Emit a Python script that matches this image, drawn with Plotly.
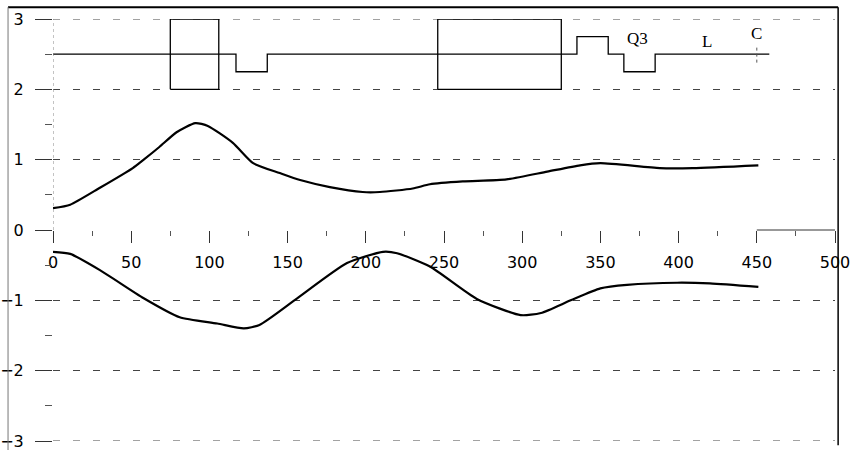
import plotly.graph_objects as go

# Upper optics curve (positive branch)
upper_x = [0, 11, 30, 51, 58, 68, 79, 91, 99, 115, 128, 145, 158, 177, 198, 209, 230, 241, 262, 290, 316, 337, 350, 388, 409, 451]
upper_y = [0.31, 0.36, 0.60, 0.88, 1.00, 1.18, 1.39, 1.52, 1.48, 1.24, 0.95, 0.81, 0.71, 0.61, 0.54, 0.54, 0.59, 0.65, 0.69, 0.72, 0.83, 0.92, 0.95, 0.88, 0.88, 0.92]

# Lower optics curve (negative branch)
lower_x = [0, 11, 30, 58, 81, 105, 122, 132, 155, 188, 211, 220, 241, 271, 299, 312, 331, 350, 367, 399, 420, 451]
lower_y = [-0.31, -0.34, -0.57, -0.97, -1.24, -1.33, -1.40, -1.35, -0.99, -0.47, -0.31, -0.33, -0.52, -0.98, -1.21, -1.18, -1.00, -0.83, -0.78, -0.75, -0.76, -0.81]

# Lattice layout: baseline level, boxed elements and step elements
line_level = 2.5
line_end = 458
box_start = [75, 246]
box_end = [106, 325]
box_low, box_high = 2.0, 3.0
step_start = [117, 335, 365]
step_end = [137, 355, 385]
step_level = [2.25, 2.75, 2.25]

labels = ["Q3", "L", "C"]
label_x = [374, 418, 450]
label_y = [2.72, 2.68, 2.8]
marker_x = 450

x_ticks = list(range(0, 501, 50))
y_ticks = list(range(-3, 4))
y_min, y_max = -3, 3

# Build the baseline polyline with its steps
lat_x, lat_y = [0], [line_level]
for s, e, lv in zip(step_start, step_end, step_level):
    lat_x += [s, s, e, e]
    lat_y += [line_level, lv, lv, line_level]
lat_x.append(line_end)
lat_y.append(line_level)

fig = go.Figure()

fig.add_trace(go.Scatter(x=lat_x, y=lat_y, mode="lines",
                         line=dict(color="black", width=1.3), hoverinfo="skip"))
for s, e in zip(box_start, box_end):
    fig.add_trace(go.Scatter(x=[s, e, e, s, s], y=[box_low, box_low, box_high, box_high, box_low],
                             mode="lines", line=dict(color="black", width=1.3), hoverinfo="skip"))

fig.add_trace(go.Scatter(x=upper_x, y=upper_y, mode="lines",
                         line=dict(color="black", width=2.2, shape="spline", smoothing=0.6)))
fig.add_trace(go.Scatter(x=lower_x, y=lower_y, mode="lines",
                         line=dict(color="black", width=2.2, shape="spline", smoothing=0.6)))

for t, lx, ly in zip(labels, label_x, label_y):
    fig.add_annotation(x=lx, y=ly, text=t, showarrow=False,
                       font=dict(family="Liberation Serif", size=17, color="black"))

grid_dash = "7px,13px"
shapes = [
    # dashed grid lines along the top and bottom edges
    dict(type="line", xref="paper", yref="y", x0=0, x1=1, y0=y_max, y1=y_max,
         line=dict(color="#444", width=1, dash=grid_dash), layer="below"),
    dict(type="line", xref="paper", yref="y", x0=0, x1=1, y0=y_min, y1=y_min,
         line=dict(color="#444", width=1, dash=grid_dash), layer="below"),
    # marker tick on the lattice line
    dict(type="line", xref="x", yref="y", x0=marker_x, x1=marker_x, y0=line_level - 0.12,
         y1=line_level + 0.12, line=dict(color="#555", width=1, dash="dot")),
    # faint vertical axis above zero
    dict(type="line", xref="x", yref="y", x0=0, x1=0, y0=0, y1=3,
         line=dict(color="#888", width=1, dash="dot")),
    # segment of the horizontal axis at the far end
    dict(type="line", xref="x", yref="y", x0=450, x1=500, y0=0, y1=0,
         line=dict(color="#333", width=1)),
    # outer frame
    dict(type="line", xref="paper", yref="paper", x0=-0.0575, x1=1.004, y0=1.028, y1=1.028,
         line=dict(color="black", width=2)),
    dict(type="line", xref="paper", yref="paper", x0=-0.0575, x1=-0.0575, y0=-0.05, y1=1.028,
         line=dict(color="#777", width=1)),
    dict(type="line", xref="paper", yref="paper", x0=1.004, x1=1.004, y0=-0.01, y1=1.028,
         line=dict(color="black", width=1.5)),
]

fig.update_layout(
    width=854, height=450,
    margin=dict(l=53, r=19, t=19, b=9),
    paper_bgcolor="white", plot_bgcolor="white",
    showlegend=False,
    shapes=shapes,
    font=dict(family="DejaVu Sans", size=16, color="black"),
)

fig.update_xaxes(
    range=[0, 500], tickvals=x_ticks, anchor="free", position=0.5,
    automargin=False, ticklabeloverflow="allow",
    ticks="outside", ticklen=12, tickwidth=1, tickcolor="#333",
    showgrid=False, showline=False, zeroline=False,
    minor=dict(dtick=25, ticks="outside", ticklen=5, tickcolor="#555", showgrid=False),
    tickfont=dict(family="DejaVu Sans", size=16, color="black"),
    ticklabelstandoff=6,
)
fig.update_yaxes(
    range=[y_min, y_max], tickvals=y_ticks,
    automargin=False, ticklabeloverflow="allow",
    ticks="outside", ticklen=17, tickwidth=1, tickcolor="#333",
    showgrid=True, gridcolor="#444", gridwidth=1, griddash=grid_dash,
    zeroline=True, zerolinecolor="rgba(0,0,0,0)",
    showline=False,
    minor=dict(dtick=0.5, ticks="outside", ticklen=7, tickcolor="#555", showgrid=False),
    tickfont=dict(family="DejaVu Sans", size=16, color="black"),
    ticklabelstandoff=8,
)

fig.write_html("out.html")
